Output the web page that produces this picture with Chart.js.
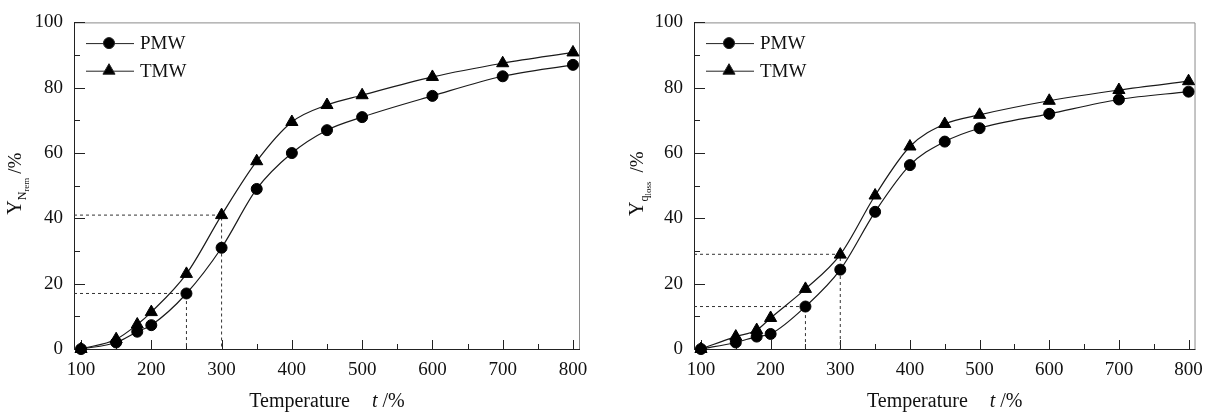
<!DOCTYPE html>
<html>
<head>
<meta charset="utf-8">
<title>Y vs temperature</title>
<script src="https://cdn.jsdelivr.net/npm/chart.js@4.4.1/dist/chart.umd.min.js"></script>
<style>
  html, body { margin: 0; padding: 0; background: #fff; }
  #wrap { position: relative; width: 1213px; height: 414px; overflow: hidden; }
  canvas { position: absolute; top: 0; }
</style>
</head>
<body>
<div id="wrap">
  <canvas id="nrem" width="606" height="414" style="left:0"></canvas>
  <canvas id="qloss" width="607" height="414" style="left:606px"></canvas>
</div>
<script>
'use strict';

// --- data ---
const temps = [100, 150, 180, 200, 250, 300, 350, 400, 450, 500, 600, 700, 800];
const seriesNames = ['PMW', 'TMW'];

const nremPMW = [0, 2, 5.3, 7.3, 17, 31, 49, 60, 67, 71, 77.5, 83.5, 87];
const nremTMW = [0, 3, 7.5, 11.3, 23, 41, 57.5, 69.5, 74.7, 77.7, 83.3, 87.5, 90.8];
const qlossPMW = [0, 2, 3.8, 4.6, 13, 24.3, 42, 56.3, 63.5, 67.6, 72, 76.4, 78.8];
const qlossTMW = [0, 3.8, 5.8, 9.5, 18.4, 28.9, 47, 62, 68.9, 71.7, 76, 79.3, 82];

// dashed guide lines (x, y)
const nremGuideX = [300, 250];
const nremGuideY = [41, 17];
const qlossGuideX = [300, 250];
const qlossGuideY = [29, 13];

const xTicks = [100, 200, 300, 400, 500, 600, 700, 800];
const xMinorTicks = [150, 250, 350, 450, 550, 650, 750];
const yTicks = [0, 20, 40, 60, 80, 100];
const yMinorTicks = [10, 30, 50, 70, 90];

const X_MIN = 90, X_MAX = 810;
const SERIF = '"Liberation Serif", "Times New Roman", serif';
const INK = '#111';

function fontOf(r) {
  return (r.italic ? 'italic ' : '') + r.size + 'px ' + SERIF;
}

// draws a row of text runs centred on x (sub/superscripts via dy)
function drawRuns(ctx, runs, x, y) {
  let total = 0;
  runs.forEach(r => {
    if (r.text) { ctx.font = fontOf(r); r.w = ctx.measureText(r.text).width; }
    else r.w = r.gap;
    total += r.w;
  });
  let cx = x - total / 2;
  runs.forEach(r => {
    if (r.text) {
      ctx.font = fontOf(r);
      ctx.fillText(r.text, cx, y + (r.dy || 0));
    }
    cx += r.w;
  });
}

const X_TITLE = [
  { text: 'Temperature', size: 20 },
  { gap: 22 },
  { text: 't', size: 20, italic: true },
  { text: ' /%', size: 20 }
];

// frame, inward ticks, legend and axis titles
function makeDecor(yTitle, yTitleX) {
  return {
    id: 'decor',
    beforeDatasetsDraw(chart) {
      const { ctx, chartArea: a, scales: { x, y } } = chart;
      ctx.save();
      ctx.lineWidth = 1;
      ctx.strokeStyle = '#8a8a8a';
      ctx.beginPath();
      ctx.moveTo(a.left, a.top + 0.5);
      ctx.lineTo(a.right - 0.5, a.top + 0.5);
      ctx.lineTo(a.right - 0.5, a.bottom);
      ctx.stroke();

      ctx.strokeStyle = '#222';
      ctx.beginPath();
      ctx.moveTo(a.left + 0.5, a.top);
      ctx.lineTo(a.left + 0.5, a.bottom + 0.5);
      ctx.lineTo(a.right, a.bottom + 0.5);
      xTicks.forEach(v => {
        const px = Math.round(x.getPixelForValue(v)) + 0.5;
        ctx.moveTo(px, a.bottom); ctx.lineTo(px, a.bottom - 9);
      });
      xMinorTicks.forEach(v => {
        const px = Math.round(x.getPixelForValue(v)) + 0.5;
        ctx.moveTo(px, a.bottom); ctx.lineTo(px, a.bottom - 5);
      });
      yTicks.forEach(v => {
        const py = Math.round(y.getPixelForValue(v)) + 0.5;
        ctx.moveTo(a.left, py); ctx.lineTo(a.left + 11, py);
      });
      yMinorTicks.forEach(v => {
        const py = Math.round(y.getPixelForValue(v)) + 0.5;
        ctx.moveTo(a.left, py); ctx.lineTo(a.left + 6, py);
      });
      ctx.stroke();
      ctx.restore();
    },
    afterDraw(chart) {
      const { ctx, chartArea: a } = chart;
      ctx.save();
      ctx.fillStyle = INK;
      ctx.textAlign = 'left';
      ctx.textBaseline = 'alphabetic';

      // legend
      const rows = [a.top + 20.7, a.top + 48.3];
      seriesNames.forEach((name, i) => {
        const ds = chart.data.datasets[i];
        const ly = rows[i];
        ctx.strokeStyle = '#222';
        ctx.lineWidth = 1;
        ctx.beginPath();
        ctx.moveTo(a.left + 12, ly + 0.5);
        ctx.lineTo(a.left + 60, ly + 0.5);
        ctx.stroke();
        ctx.fillStyle = '#000';
        Chart.helpers.drawPoint(ctx, {
          pointStyle: ds.pointStyle, radius: ds.pointRadius, rotation: 0, borderWidth: 1
        }, a.left + 35, ly);
        ctx.fillStyle = INK;
        ctx.font = '19px ' + SERIF;
        ctx.textBaseline = 'middle';
        ctx.fillText(name, a.left + 66, ly + 1);
        ctx.textBaseline = 'alphabetic';
      });

      // x title
      drawRuns(ctx, X_TITLE, (a.left + a.right) / 2, 407);

      // y title, rotated
      ctx.translate(yTitleX, (a.top + a.bottom) / 2 - 2);
      ctx.rotate(-Math.PI / 2);
      drawRuns(ctx, yTitle, 0, 0);
      ctx.restore();
    }
  };
}

function points(vals) {
  return temps.map((t, i) => ({ x: t, y: vals[i] }));
}

function guides(gx, gy) {
  return gx.map((g, i) => ({
    data: [{ x: X_MIN, y: gy[i] }, { x: g, y: gy[i] }, { x: g, y: 0 }],
    borderColor: '#333',
    borderWidth: 1,
    borderDash: [3, 3],
    pointRadius: 0,
    tension: 0,
    order: 5
  }));
}

function series(vals, style, radius) {
  return {
    data: points(vals),
    borderColor: '#1a1a1a',
    borderWidth: 1.2,
    backgroundColor: '#000',
    pointBackgroundColor: '#000',
    pointBorderColor: '#000',
    pointBorderWidth: 1,
    pointStyle: style,
    pointRadius: radius,
    cubicInterpolationMode: 'monotone',
    clip: false,
    order: 1
  };
}

function build(canvasId, pmw, tmw, gx, gy, opts) {
  const tickFont = { family: SERIF, size: 19 };
  return new Chart(document.getElementById(canvasId), {
    type: 'line',
    data: {
      datasets: [
        Object.assign(series(pmw, 'circle', 5.5), { label: seriesNames[0] }),
        Object.assign(series(tmw, 'triangle', 7), { label: seriesNames[1] }),
        ...guides(gx, gy)
      ]
    },
    options: {
      responsive: false,
      animation: false,
      events: [],
      devicePixelRatio: 1,
      layout: { autoPadding: false, padding: { top: 16, right: opts.padRight, bottom: 0, left: 0 } },
      plugins: { legend: { display: false }, tooltip: { enabled: false } },
      scales: {
        x: {
          type: 'linear',
          min: X_MIN,
          max: X_MAX,
          afterBuildTicks: s => { s.ticks = xTicks.map(v => ({ value: v })); },
          afterFit: s => { s.height = 65; },
          grid: { display: false, drawTicks: false },
          border: { display: false },
          ticks: { font: tickFont, color: INK, padding: 10, maxRotation: 0, autoSkip: false }
        },
        y: {
          min: 0,
          max: 100,
          afterBuildTicks: s => { s.ticks = yTicks.map(v => ({ value: v })); },
          afterFit: s => { s.width = opts.axisWidth; },
          grid: { display: false, drawTicks: false },
          border: { display: false },
          ticks: { font: tickFont, color: INK, padding: 11 }
        }
      }
    },
    plugins: [makeDecor(opts.yTitle, opts.yTitleX)]
  });
}

build('nrem', nremPMW, nremTMW, nremGuideX, nremGuideY, {
  axisWidth: 74, padRight: 26, yTitleX: 21,
  yTitle: [
    { text: 'Y', size: 20 },
    { text: 'N', size: 12, dy: 5 },
    { text: 'rem', size: 9, dy: 8 },
    { gap: 4 },
    { text: '/%', size: 19 }
  ]
});

build('qloss', qlossPMW, qlossTMW, qlossGuideX, qlossGuideY, {
  axisWidth: 88, padRight: 14, yTitleX: 37,
  yTitle: [
    { text: 'Y', size: 20 },
    { text: 'q', size: 12, dy: 5 },
    { text: 'loss', size: 9, dy: 8 },
    { gap: 9 },
    { text: '/%', size: 19 }
  ]
});
</script>
</body>
</html>
